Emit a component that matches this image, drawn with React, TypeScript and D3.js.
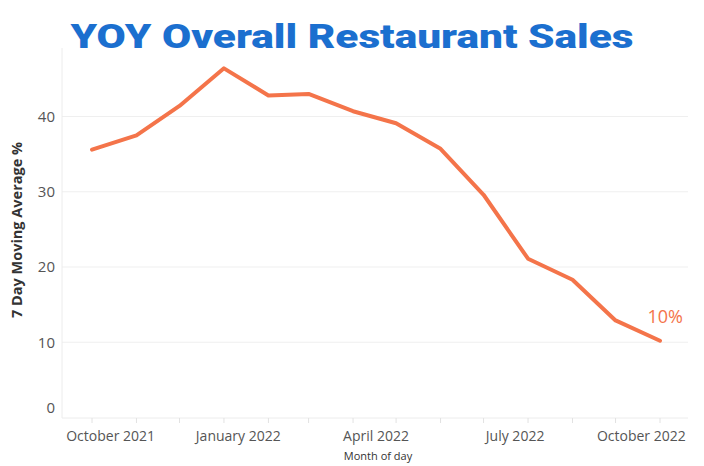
import React from "react";
import * as d3 from "d3";

const months: string[] = [
  "2021-10-01", "2021-11-01", "2021-12-01", "2022-01-01", "2022-02-01", "2022-03-01", "2022-04-01",
  "2022-05-01", "2022-06-01", "2022-07-01", "2022-08-01", "2022-09-01", "2022-10-01", "2022-11-01",
];
const values: number[] = [35.6, 37.5, 41.4, 46.4, 42.8, 43.0, 40.7, 39.1, 35.7, 29.6, 21.1, 18.3, 12.9, 10.2];
const yTicks: number[] = [0, 10, 20, 30, 40];
const xLabels: { date: string; label: string }[] = [
  { date: "2021-10-14", label: "October 2021" },
  { date: "2022-01-11", label: "January 2022" },
  { date: "2022-04-17", label: "April 2022" },
  { date: "2022-07-23", label: "July 2022" },
  { date: "2022-10-19", label: "October 2022" },
];

const W = 704;
const H = 466;
const left = 62;
const right = 688;
const top = 48;
const bottom = 418;

export default function App() {
  const parse = d3.timeParse("%Y-%m-%d");
  const dates = months.map((m) => parse(m) as Date);
  const x = d3
    .scaleTime()
    .domain([dates[0], dates[dates.length - 1]])
    .range([92, 660]);
  const y = d3.scaleLinear().domain([0, 40]).range([417.5, 116.5]);
  const line = d3
    .line<number>()
    .x((_, i) => x(dates[i]))
    .y((d) => y(d));
  const path = line(values) || "";
  const tickDates = d3.timeMonth.range(d3.timeMonth.offset(dates[0], -1), d3.timeMonth.offset(dates[dates.length - 1], 1));
  const last = values[values.length - 1];
  const font = "'Open Sans', 'Noto Sans', sans-serif";

  return (
    <svg width={W} height={H} style={{ position: "absolute", left: 0, top: 0, background: "#fff" }}>
      <text
        x={352}
        y={48}
        textAnchor="middle"
        fontFamily="Roboto, Inter, sans-serif"
        fontWeight={900}
        fontSize={33}
        fill="#1b6fcf"
        textLength={563}
        lengthAdjust="spacingAndGlyphs"
      >
        YOY Overall Restaurant Sales
      </text>

      {yTicks.filter((t) => t > 0).map((t) => (
        <line key={t} x1={left} x2={right} y1={y(t)} y2={y(t)} stroke="#efefef" strokeWidth={1} />
      ))}
      <line x1={left} x2={right} y1={bottom} y2={bottom} stroke="#ececec" strokeWidth={1} />
      <line x1={left} x2={left} y1={top} y2={bottom} stroke="#ececec" strokeWidth={1} />

      {tickDates
        .filter((d) => x(d) > left && x(d) < right)
        .map((d, i) => (
          <line key={i} x1={x(d)} x2={x(d)} y1={bottom} y2={bottom + 5} stroke="#e2e2e2" strokeWidth={1} />
        ))}

      {yTicks.map((t) => (
        <text
          key={t}
          x={55}
          y={t === 0 ? 408 : y(t)}
          dy="0.35em"
          textAnchor="end"
          fontFamily={font}
          fontSize={15}
          fill="#555"
        >
          {t}
        </text>
      ))}

      {xLabels.map((l) => (
        <text
          key={l.label}
          x={x(parse(l.date) as Date)}
          y={441}
          textAnchor="middle"
          fontFamily={font}
          fontSize={14}
          fill="#555"
        >
          {l.label}
        </text>
      ))}

      <text x={378} y={460} textAnchor="middle" fontFamily={font} fontSize={11} fill="#333">
        Month of day
      </text>

      <text
        transform={`translate(22,${230}) rotate(-90)`}
        textAnchor="middle"
        fontFamily={font}
        fontWeight={700}
        fontSize={14.5}
        fill="#333"
      >
        7 Day Moving Average %
      </text>

      <path d={path} fill="none" stroke="#f4744a" strokeWidth={4} strokeLinejoin="round" strokeLinecap="round" />

      <text
        x={x(dates[dates.length - 1]) + 23}
        y={y(last) - 18}
        textAnchor="end"
        fontFamily={font}
        fontSize={18}
        fill="#f4744a"
      >
        {`${Math.round(last)}%`}
      </text>
    </svg>
  );
}
